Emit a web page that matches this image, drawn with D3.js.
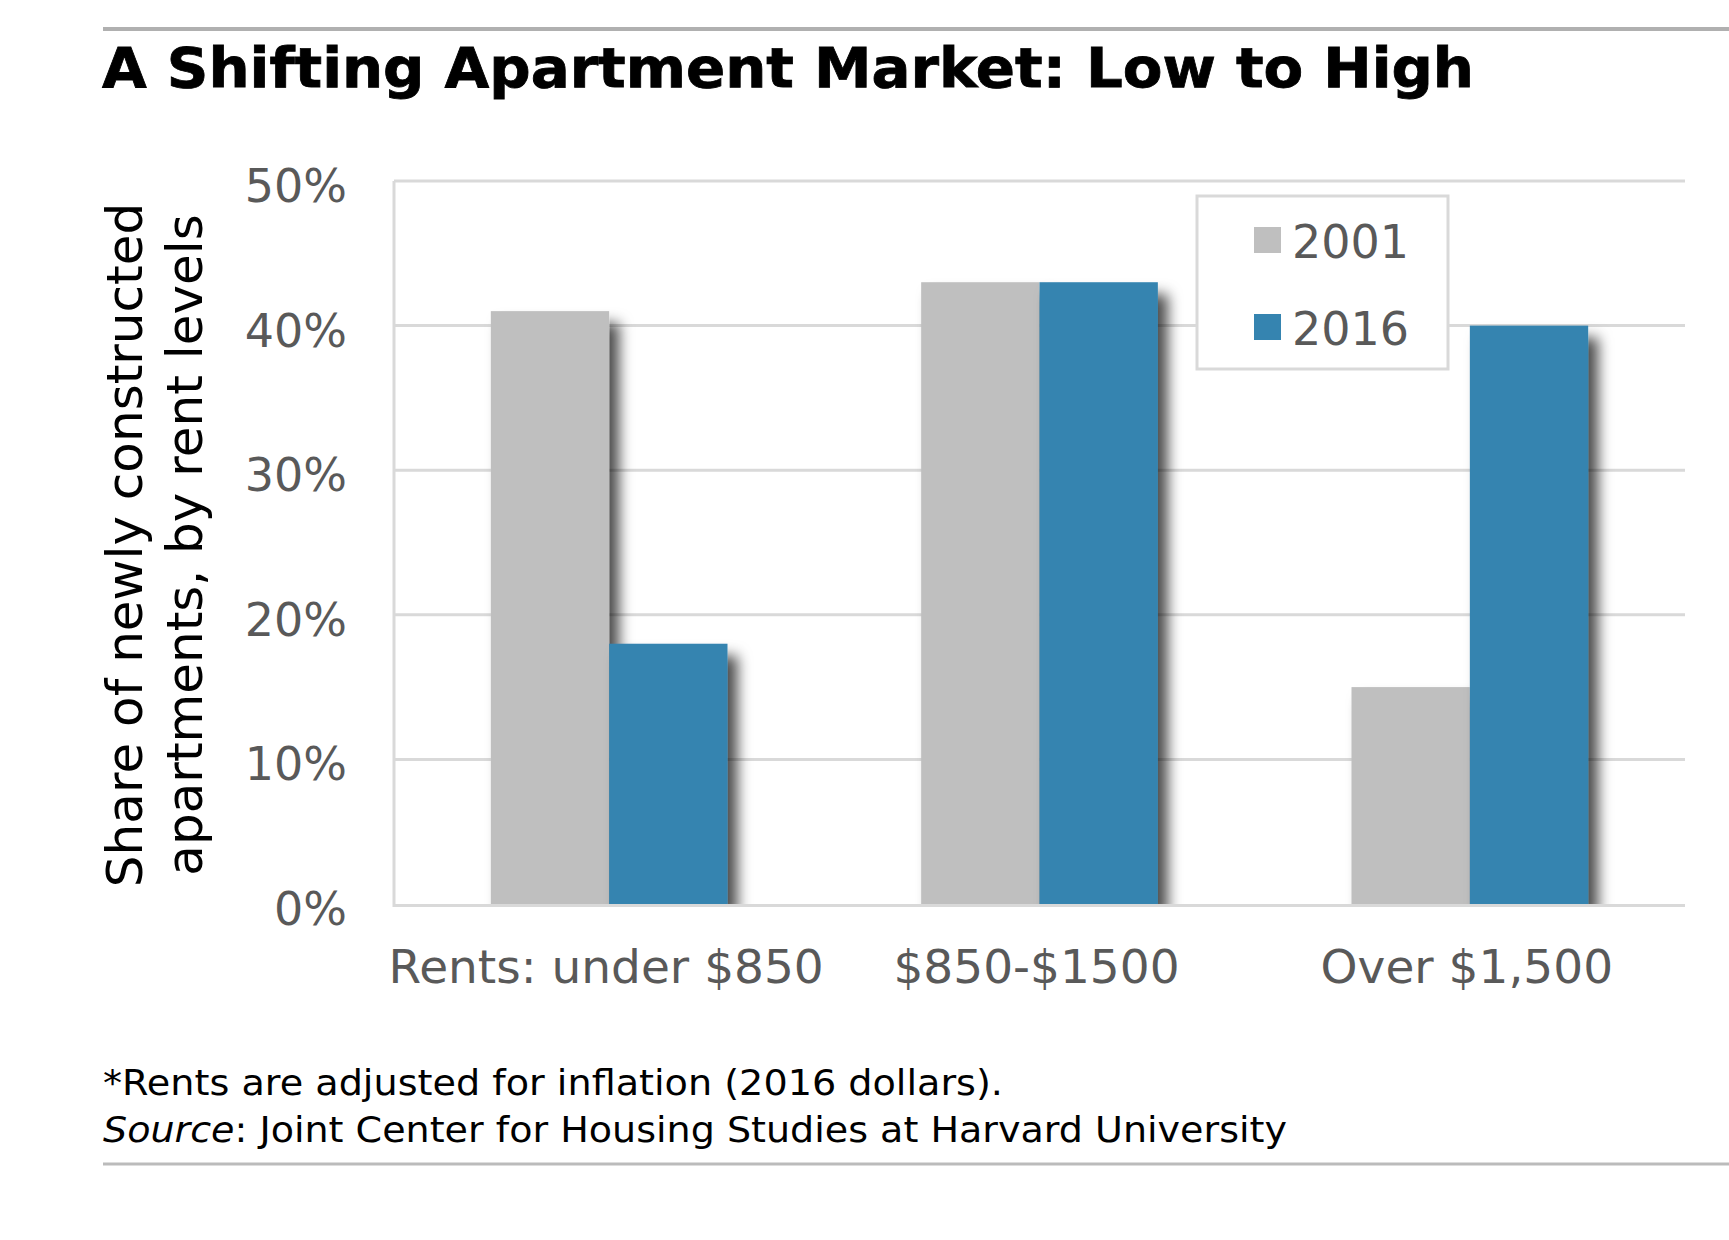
<!DOCTYPE html>
<html><head><meta charset="utf-8">
<script src="https://cdn.jsdelivr.net/npm/d3@7/dist/d3.min.js"></script>
<style>body{margin:0;background:#fff;}svg{display:block;}</style>
</head><body>
<svg id="chart" width="1729" height="1240"></svg>
<script>
const categories = ["Rents: under $850", "$850-$1500", "Over $1,500"];
const seriesNames = ["2001", "2016"];
const values2001 = [41, 43, 15];
const values2016 = [18, 43, 40];
const yTickValues = [0, 10, 20, 30, 40, 50];
const seriesColors = ["#BFBFBF", "#3584B0"];
const titleText = "A Shifting Apartment Market: Low to High";
const yTitleLines = ["Share of newly constructed", "apartments, by rent levels"];
const noteText = "*Rents are adjusted for inflation (2016 dollars).";
const sourceLabel = "Source";
const sourceText = ": Joint Center for Housing Studies at Harvard University";

(function () {
const svg = d3.select("#chart");
const FONT = "'DejaVu Sans', Verdana, sans-serif";

const pLeft = 394, pRight = 1685, pTop = 181, pBottom = 904;
const x = d3.scaleBand().domain(categories).range([pLeft, pRight]).paddingInner(0.45).paddingOuter(0.225);
const xs = d3.scaleBand().domain(seriesNames).range([0, x.bandwidth()]).padding(0);
const y = d3.scaleLinear().domain([0, 50]).range([pBottom, pTop]);

const defs = svg.append("defs");
const f = defs.append("filter").attr("id", "shadow").attr("x", "-30%").attr("y", "-20%").attr("width", "180%").attr("height", "150%");
f.append("feDropShadow").attr("dx", 10).attr("dy", 12).attr("stdDeviation", 7)
  .attr("flood-color", "#000").attr("flood-opacity", 0.7);
defs.append("clipPath").attr("id", "plotclip").append("rect")
  .attr("x", pLeft).attr("y", 0).attr("width", 1729 - pLeft).attr("height", pBottom + 1);

// top rule
svg.append("line").attr("x1", 103).attr("x2", 1729).attr("y1", 29).attr("y2", 29)
  .attr("stroke", "#b0b0b0").attr("stroke-width", 4);

// title
svg.append("text").attr("x", 102).attr("y", 87).text(titleText)
  .attr("font-family", FONT).attr("font-weight", "bold").attr("font-size", 56)
  .attr("fill", "#000").attr("stroke", "#000").attr("stroke-width", 0.8)
  .attr("textLength", 1372).attr("lengthAdjust", "spacingAndGlyphs");

// gridlines
svg.append("g").selectAll("line").data(yTickValues.filter(d => d > 0)).join("line")
  .attr("x1", pLeft).attr("x2", pRight).attr("y1", d => y(d)).attr("y2", d => y(d))
  .attr("stroke", "#d9d9d9").attr("stroke-width", 3);

// y axis labels
const yAxis = d3.axisLeft(y).tickValues(yTickValues).tickFormat(d => d + "%").tickSize(0).tickPadding(0);
const yg = svg.append("g").attr("transform", `translate(347,4)`).call(yAxis);
yg.select(".domain").remove();
yg.selectAll("text").attr("font-family", FONT).attr("font-size", 46).attr("fill", "#595959").attr("dy", "0.36em");

// left axis line
svg.append("line").attr("x1", pLeft).attr("x2", pLeft).attr("y1", pTop).attr("y2", pBottom)
  .attr("stroke", "#d9d9d9").attr("stroke-width", 3);

// bars
const seriesData = [values2001, values2016];
const barsG = svg.append("g").attr("clip-path", "url(#plotclip)");
seriesNames.forEach((s, si) => {
  barsG.append("g").selectAll("rect").data(categories).join("rect")
    .attr("x", c => x(c) + xs(s)).attr("width", xs.bandwidth())
    .attr("y", (c, i) => y(seriesData[si][i])).attr("height", (c, i) => y(0) - y(seriesData[si][i]))
    .attr("fill", seriesColors[si]).attr("filter", "url(#shadow)");
});

// bottom axis line
svg.append("line").attr("x1", pLeft - 1.5).attr("x2", pRight).attr("y1", pBottom + 1.5).attr("y2", pBottom + 1.5)
  .attr("stroke", "#d9d9d9").attr("stroke-width", 3);

// x labels
const xAxis = d3.axisBottom(x).tickSize(0).tickPadding(0);
const xg = svg.append("g").attr("transform", `translate(-3,983)`).call(xAxis);
xg.select(".domain").remove();
xg.selectAll("text").attr("font-family", FONT).attr("font-size", 47).attr("fill", "#595959").attr("dy", 0).attr("y", 0);

// y axis title
const yt = svg.append("g");
yTitleLines.forEach((t, i) => {
  yt.append("text").attr("transform", `translate(${142 + i * 60},545) rotate(-90)`)
    .attr("text-anchor", "middle").attr("font-family", FONT).attr("font-size", 50).attr("fill", "#000").text(t);
});

// legend
const lg = svg.append("g");
lg.append("rect").attr("x", 1197).attr("y", 196).attr("width", 251).attr("height", 173)
  .attr("fill", "#fff").attr("stroke", "#d9d9d9").attr("stroke-width", 3);
seriesNames.forEach((s, i) => {
  const cy = 240 + i * 87;
  lg.append("rect").attr("x", 1254).attr("y", cy - 13).attr("width", 27).attr("height", 26).attr("fill", seriesColors[i]);
  lg.append("text").attr("x", 1292).attr("y", cy + 18).text(s)
    .attr("font-family", FONT).attr("font-size", 46).attr("fill", "#595959");
});

// footnotes
svg.append("text").attr("x", 103).attr("y", 1095).text(noteText)
  .attr("font-family", FONT).attr("font-size", 35).attr("fill", "#000")
  .attr("textLength", 900).attr("lengthAdjust", "spacingAndGlyphs");
const src = svg.append("text").attr("x", 103).attr("y", 1142)
  .attr("font-family", FONT).attr("font-size", 35).attr("fill", "#000")
  .attr("textLength", 1184).attr("lengthAdjust", "spacingAndGlyphs");
src.append("tspan").attr("font-style", "italic").text(sourceLabel);
src.append("tspan").text(sourceText);

// bottom rule
svg.append("line").attr("x1", 103).attr("x2", 1729).attr("y1", 1164).attr("y2", 1164)
  .attr("stroke", "#bbbbbb").attr("stroke-width", 3);
})();
</script>
</body></html>
